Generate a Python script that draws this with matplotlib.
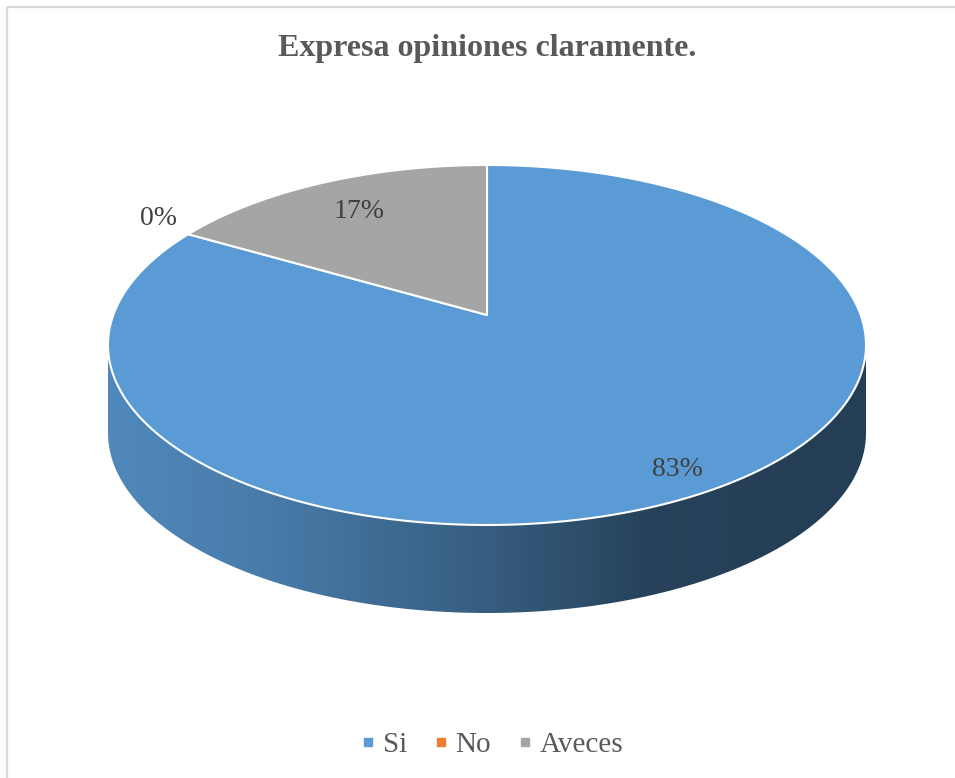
import matplotlib
matplotlib.use("Agg")
import matplotlib.pyplot as plt
import numpy as np
from matplotlib.patches import Polygon, Rectangle
from matplotlib.lines import Line2D

title = "Expresa opiniones claramente."
categories = ["Si", "No", "Aveces"]
counts = [10, 0, 2]
colors = ["#5B9BD5", "#ED7D31", "#A5A5A5"]

# layout of the fake 3d pie, in pixels
cx, cy = 487, 315
A, B, k = 373.7, 175.0, 1 / 6
depth = 88
label_r = [0.89, 1.04, 0.76]


def proj(a_deg, r=1.0):
    # a_deg: clockwise from 12 o'clock, like excel
    a = np.radians(a_deg)
    u = r * np.sin(a)
    v = -r * np.cos(a)
    w = 1 - k * v
    return cx + A * u / w, cy + B * v / w


def shade(t):
    # brightness along the side wall, left -> right
    return np.interp(t, [0, 0.2, 0.5, 0.72, 1], [0.88, 0.8, 0.6, 0.42, 0.40])


fig = plt.figure(figsize=(9.55, 7.78), dpi=100)
ax = fig.add_axes([0, 0, 1, 1])
ax.set_xlim(0, 955)
ax.set_ylim(778, 0)
ax.axis('off')

# chart border (cut by the picture on right and bottom)
ax.add_patch(Rectangle((7, 6.5), 1000, 1000, fill=False, ec="#d9d9d9", lw=1.6))

total = sum(counts)
fracs = np.array(counts) / total
ends = np.cumsum(fracs) * 360
starts = ends - fracs * 360

# side walls (only the front half is visible)
a_ext = np.degrees(np.arccos(-k))
xl, _ = proj(360 - a_ext)
xr, _ = proj(a_ext)
for s, e, c in zip(starts, ends, colors):
    lo, hi = max(s, a_ext), min(e, 360 - a_ext)
    if hi <= lo:
        continue
    arc = np.linspace(lo, hi, 300)
    tx, ty = proj(arc)
    pts = np.concatenate([np.c_[tx, ty], np.c_[tx[::-1], ty[::-1] + depth]])
    poly = Polygon(pts, closed=True, fc="none", ec="none")
    ax.add_patch(poly)
    t = np.linspace(0, 1, 400)
    rgb = np.array(matplotlib.colors.to_rgb(c))
    img = (shade(t)[:, None] * rgb[None, :])[None, :, :]
    im = ax.imshow(img, extent=(xl, xr, ty.max() + depth + 5, ty.min() - 5),
                   aspect='auto', interpolation='bilinear', zorder=1)
    im.set_clip_path(poly)

# top face
for s, e, c in zip(starts, ends, colors):
    if e - s <= 0:
        continue
    arc = np.linspace(s, e, 300)
    tx, ty = proj(arc)
    pts = np.concatenate([[[cx, cy]], np.c_[tx, ty]])
    ax.add_patch(Polygon(pts, closed=True, fc=c, ec="white", lw=1.5,
                         joinstyle='round', zorder=2))

# data labels
for s, e, fr, r in zip(starts, ends, fracs, label_r):
    lx, ly = proj((s + e) / 2, r)
    txt = f"{fr * 100:.0f}%"
    if fr == 0:
        ax.text(lx, ly - 6, txt, ha='right', va='baseline', fontsize=20,
                family='Liberation Serif', color="#404040", zorder=3)
    else:
        ax.text(lx, ly, txt, ha='center', va='center', fontsize=20,
                family='Liberation Serif', color="#404040", zorder=3)

ax.text(487, 48, title, ha='center', va='center', fontsize=23, fontweight='bold',
        family='Liberation Serif', color="#595959")

handles = [Line2D([], [], marker='s', ls='', color=c, markersize=5.8) for c in colors]
leg = ax.legend(handles, categories, loc='center', bbox_to_anchor=(492 / 955, 1 - 745 / 778),
                ncol=3, frameon=False, handlelength=0.5, handletextpad=0.26,
                columnspacing=0.9, prop={'family': 'Liberation Serif', 'size': 21})
for t in leg.get_texts():
    t.set_color("#595959")

fig.savefig("out.png", dpi=100)
